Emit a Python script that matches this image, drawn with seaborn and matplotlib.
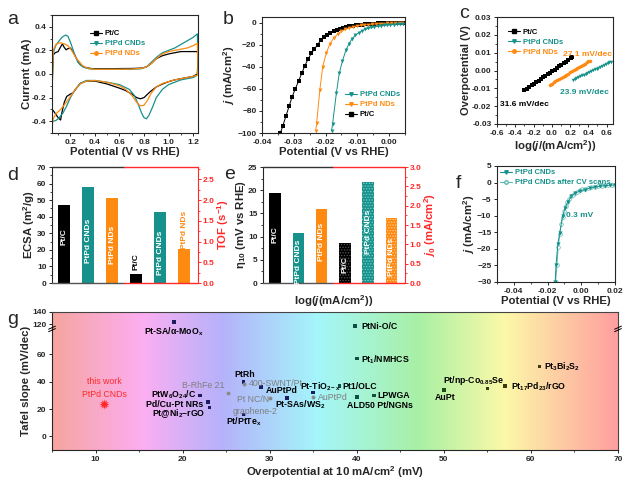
import numpy as np
import pandas as pd
import matplotlib
matplotlib.use("Agg")
import matplotlib.pyplot as plt
import seaborn as sns
from matplotlib.lines import Line2D
from matplotlib.colors import LinearSegmentedColormap
from matplotlib.ticker import MultipleLocator, FixedLocator, FormatStrFormatter

# ---------------- data ----------------
# (a) CV curves: upper (anodic) branch then lower (cathodic) branch
cv_ptc_ux = [0.05, 0.052, 0.06, 0.075, 0.1, 0.12, 0.135, 0.15, 0.165, 0.18, 0.2, 0.22, 0.25, 0.28, 0.32, 0.38, 0.5, 0.6, 0.7, 0.78, 0.82, 0.86, 0.9, 0.95, 1.0, 1.05, 1.1, 1.15, 1.2, 1.235]
cv_ptc_uy = [-0.30, -0.05, 0.16, 0.18, 0.19, 0.23, 0.255, 0.225, 0.205, 0.215, 0.22, 0.19, 0.13, 0.08, 0.055, 0.045, 0.045, 0.046, 0.047, 0.05, 0.06, 0.09, 0.13, 0.155, 0.17, 0.18, 0.19, 0.19, 0.19, 0.19]
cv_ptc_lx = [1.24, 1.235, 1.2, 1.15, 1.1, 1.05, 1.0, 0.95, 0.9, 0.85, 0.8, 0.77, 0.74, 0.7, 0.65, 0.6, 0.5, 0.4, 0.33, 0.28, 0.25, 0.22, 0.2, 0.17, 0.15, 0.13, 0.12, 0.1, 0.08, 0.06, 0.05]
cv_ptc_ly = [0.15, 0.0, -0.02, -0.03, -0.04, -0.05, -0.065, -0.085, -0.11, -0.15, -0.2, -0.21, -0.2, -0.17, -0.14, -0.12, -0.085, -0.06, -0.06, -0.08, -0.12, -0.16, -0.17, -0.19, -0.24, -0.33, -0.39, -0.37, -0.34, -0.31, -0.30]

cv_cnd_ux = [0.05, 0.052, 0.06, 0.08, 0.1, 0.13, 0.16, 0.18, 0.2, 0.23, 0.26, 0.3, 0.35, 0.4, 0.5, 0.6, 0.7, 0.78, 0.82, 0.86, 0.9, 0.95, 1.0, 1.05, 1.1, 1.15, 1.2, 1.235]
cv_cnd_uy = [-0.40, -0.1, 0.18, 0.24, 0.27, 0.31, 0.33, 0.32, 0.27, 0.18, 0.1, 0.06, 0.045, 0.04, 0.04, 0.04, 0.04, 0.045, 0.06, 0.1, 0.14, 0.18, 0.2, 0.22, 0.25, 0.28, 0.31, 0.34]
cv_cnd_lx = [1.24, 1.235, 1.2, 1.15, 1.1, 1.05, 1.0, 0.95, 0.9, 0.87, 0.84, 0.82, 0.8, 0.78, 0.75, 0.72, 0.68, 0.6, 0.5, 0.4, 0.33, 0.28, 0.24, 0.2, 0.17, 0.14, 0.1, 0.08, 0.06, 0.05]
cv_cnd_ly = [0.1, -0.01, -0.03, -0.04, -0.05, -0.07, -0.09, -0.13, -0.2, -0.28, -0.35, -0.38, -0.37, -0.33, -0.25, -0.18, -0.13, -0.09, -0.07, -0.055, -0.055, -0.08, -0.13, -0.2, -0.27, -0.33, -0.38, -0.395, -0.4, -0.40]

cv_nd_ux = [0.05, 0.052, 0.06, 0.08, 0.1, 0.12, 0.15, 0.18, 0.21, 0.25, 0.3, 0.35, 0.4, 0.5, 0.6, 0.7, 0.78, 0.82, 0.86, 0.9, 0.95, 1.0, 1.05, 1.1, 1.15, 1.2, 1.235]
cv_nd_uy = [-0.45, -0.1, 0.2, 0.25, 0.26, 0.265, 0.255, 0.24, 0.2, 0.13, 0.07, 0.045, 0.04, 0.04, 0.04, 0.042, 0.048, 0.06, 0.09, 0.13, 0.17, 0.19, 0.2, 0.21, 0.22, 0.24, 0.26]
cv_nd_lx = [1.24, 1.235, 1.2, 1.15, 1.1, 1.05, 1.0, 0.95, 0.9, 0.86, 0.83, 0.8, 0.77, 0.74, 0.7, 0.65, 0.6, 0.5, 0.4, 0.33, 0.28, 0.24, 0.2, 0.16, 0.12, 0.08, 0.06, 0.05]
cv_nd_ly = [0.05, -0.01, -0.02, -0.03, -0.04, -0.05, -0.065, -0.08, -0.11, -0.16, -0.22, -0.265, -0.27, -0.24, -0.18, -0.13, -0.1, -0.07, -0.055, -0.06, -0.085, -0.13, -0.19, -0.25, -0.3, -0.34, -0.38, -0.45]

# (b) HER polarization curves
lsv_ptc_x = [-0.0342, -0.0335, -0.0325, -0.0315, -0.0305, -0.0295, -0.0285, -0.0275, -0.0265, -0.0255, -0.0245, -0.0235, -0.0225, -0.0215, -0.0205, -0.0195, -0.0185, -0.0175, -0.0165, -0.0155, -0.0145, -0.0135, -0.0125, -0.0115, -0.0105, -0.0095, -0.0085, -0.0075, -0.0065, -0.0055, -0.0045, -0.0035, -0.0025, -0.0015, -0.0005, 0.0005, 0.0015, 0.0025, 0.0035, 0.0045]
lsv_ptc_y = [-100, -94, -85, -76, -67, -60, -53, -46, -39, -33, -28, -24, -20, -16, -13.5, -11, -9.2, -7.8, -6.6, -5.6, -4.8, -4.1, -3.5, -3.0, -2.6, -2.2, -1.9, -1.6, -1.4, -1.2, -1.0, -0.85, -0.7, -0.6, -0.5, -0.4, -0.35, -0.3, -0.25, -0.2]
lsv_nd_x = [-0.0231, -0.0228, -0.0218, -0.0209, -0.0198, -0.0186, -0.0174, -0.0162, -0.015, -0.0138, -0.0126, -0.0114, -0.0102, -0.009, -0.0078, -0.0066, -0.0054, -0.0042, -0.003, -0.0018, -0.0006, 0.0006, 0.0018, 0.003, 0.0042]
lsv_nd_y = [-98, -91, -61, -40, -28, -19, -14, -10.5, -8, -6.2, -4.9, -3.9, -3.2, -2.6, -2.2, -1.8, -1.5, -1.25, -1.05, -0.9, -0.75, -0.65, -0.55, -0.45, -0.4]
lsv_cnd_x = [-0.0181, -0.0178, -0.0166, -0.0157, -0.0147, -0.0136, -0.0126, -0.0116, -0.0106, -0.0096, -0.0086, -0.0076, -0.0066, -0.0056, -0.0046, -0.0036, -0.0026, -0.0016, -0.0006, 0.0004, 0.0014, 0.0024, 0.0034, 0.0044]
lsv_cnd_y = [-98, -92, -64, -46, -35, -25, -19, -14.5, -11.5, -9.3, -7.6, -6.3, -5.3, -4.5, -3.9, -3.4, -3.0, -2.6, -2.3, -2.0, -1.8, -1.6, -1.4, -1.3]

# (c) Tafel plots
tafel_ptc_x = [-0.30, -0.27, -0.245, -0.22, -0.195, -0.17, -0.145, -0.12, -0.095, -0.07, -0.045, -0.02, 0.005, 0.03, 0.055, 0.08, 0.105, 0.13, 0.155, 0.18, 0.205, 0.225]
tafel_ptc_y = [-0.0112, -0.0101, -0.0093, -0.0084, -0.0075, -0.0066, -0.0057, -0.0048, -0.0039, -0.0030, -0.0021, -0.0013, -0.0004, 0.0005, 0.0014, 0.0023, 0.0032, 0.0041, 0.0050, 0.0059, 0.0068, 0.0074]
tafel_nd_x = [-0.02, 0.0, 0.02, 0.04, 0.06, 0.08, 0.1, 0.12, 0.14, 0.16, 0.18, 0.2, 0.22, 0.24, 0.26, 0.28, 0.3, 0.32, 0.34, 0.36, 0.38, 0.4, 0.415]
tafel_nd_y = [-0.0079, -0.0073, -0.0067, -0.0060, -0.0054, -0.0048, -0.0042, -0.0036, -0.0029, -0.0023, -0.0017, -0.0011, -0.0005, 0.0002, 0.0008, 0.0014, 0.0020, 0.0026, 0.0033, 0.0039, 0.0045, 0.0051, 0.0056]
tafel_cnd_x = [0.23, 0.25, 0.27, 0.29, 0.31, 0.33, 0.35, 0.37, 0.39, 0.41, 0.43, 0.45, 0.47, 0.49, 0.51, 0.53, 0.55, 0.57, 0.59, 0.61, 0.63, 0.645]
tafel_cnd_y = [-0.0053, -0.0048, -0.0043, -0.0038, -0.0033, -0.0028, -0.0024, -0.0019, -0.0014, -0.0009, -0.0004, 0.0001, 0.0006, 0.0011, 0.0016, 0.0021, 0.0026, 0.0030, 0.0035, 0.0040, 0.0045, 0.0049]

# (d), (e) bars
catalysts = ["Pt/C", "PtPd CNDs", "PtPd NDs"]
ecsa = [47, 58, 51]
tof = [0.22, 1.71, 0.81]
eta10 = [19.3, 10.8, 16.0]
j0 = [1.04, 2.6, 1.69]

# (f) stability
stab_x = [-0.0155, -0.015, -0.0139, -0.0128, -0.0111, -0.0097, -0.008, -0.006, -0.0036, -0.001, 0.002, 0.005, 0.008, 0.011, 0.014, 0.017, 0.02]
stab_y = [-30, -25, -18.5, -15.3, -10.2, -7.8, -5.8, -4.2, -3.2, -2.6, -2.1, -1.7, -1.4, -1.1, -0.95, -0.8, -0.7]
stab_cv_x = [-0.0152, -0.0145, -0.0137, -0.0128, -0.012, -0.0111, -0.0102, -0.0093, -0.0083, -0.0073, -0.0062, -0.005, -0.0038, -0.0025, -0.001, 0.0005, 0.002, 0.004, 0.006, 0.008, 0.01, 0.012, 0.014, 0.016, 0.018, 0.02]
stab_cv_y = [-30, -25, -19.5, -15.5, -12.6, -10.3, -8.6, -7.2, -6.0, -5.0, -4.2, -3.6, -3.1, -2.7, -2.3, -2.0, -1.8, -1.55, -1.35, -1.2, -1.05, -0.95, -0.85, -0.78, -0.72, -0.68]

# (g) comparison with literature
g_names = ["Pt-SA/α-MoOx", "PtW6O24/C", "Pd/Cu-Pt NRs", "Pt@Ni2-rGO", "B-RhFe 21", "PtRh",
           "400-SWNT/Pt", "Pt/PtTex", "AuPtPd", "Pt NC/N-graphene-2", "Pt-SAs/WS2", "Pt-TiO2-x",
           "AuPtPd (2)", "Pt1/OLC", "PtNi-O/C", "Pt1/NMHCS", "ALD50 Pt/NGNs", "LPWGA", "AuPt",
           "Pt/np-Co0.85Se", "Pt17Pd23/rGO", "Pt3Bi2S2"]
g_eta = [19, 22, 22.9, 23.1, 25.2, 27, 27, 27, 29, 30, 32, 35, 35, 38, 39.8, 40, 40, 42, 50, 55, 57, 61]
g_tafel = [124, 30, 25, 21, 32, 40, 38, 16, 36, 28, 28, 32, 29, 37, 117, 57, 29, 30, 34, 35, 37, 51]
g_group = ["navy", "navy", "navy", "navy", "grey", "navy", "grey", "navy", "navy", "grey", "navy", "navy",
           "grey", "teal", "teal", "teal", "teal", "teal", "green", "olive", "olive", "olive"]
this_work = (11, 24)

# ---------------- style ----------------
sns.set_style("ticks")
plt.rcParams["font.family"] = ["Liberation Sans", "DejaVu Sans"]
plt.rcParams["font.weight"] = "bold"
plt.rcParams["axes.labelweight"] = "bold"
plt.rcParams["mathtext.fontset"] = "custom"
plt.rcParams["mathtext.rm"] = "Liberation Sans:bold"
plt.rcParams["mathtext.bf"] = "Liberation Sans:bold"
plt.rcParams["mathtext.it"] = "Liberation Sans:italic:bold"
plt.rcParams["mathtext.default"] = "regular"
plt.rcParams["hatch.linewidth"] = 0.6

BLACK = "#000000"
TEAL = "#17918b"
ORANGE = "#ff8a12"
RED = "#ff2a2a"
LAB = 8.2

fig = plt.figure(figsize=(6.4, 4.87), dpi=100)


def px_axes(l, t, r, b):
    return fig.add_axes([l / 640, 1 - b / 487, (r - l) / 640, (b - t) / 487])


def style(ax):
    ax.tick_params(which="major", direction="out", length=2.5, width=0.7, labelsize=6, pad=1.5)
    ax.tick_params(which="minor", direction="out", length=1.5, width=0.6)
    for s in ax.spines.values():
        s.set_linewidth(0.8)
        s.set_visible(True)


def legend(ax, handles, labels, colors, **kw):
    leg = ax.legend(handles, labels, frameon=False, fontsize=5.5, handlelength=1.6,
                    labelspacing=0.35, handletextpad=0.3, borderaxespad=0, **kw)
    for t, c in zip(leg.get_texts(), colors):
        t.set_color(c)
    return leg


def letter(x, y, s):
    fig.text(x / 640, 1 - y / 487, s, fontsize=14, fontweight="normal", ha="center", va="center")


def mk(c, m, **kw):
    return Line2D([0], [0], color=c, marker=m, ms=2.5, lw=0.8, **kw)


# ---------------- (a) CV ----------------
ax = px_axes(52, 15, 198, 133)
for ux, uy, lx, ly, c in [(cv_ptc_ux, cv_ptc_uy, cv_ptc_lx, cv_ptc_ly, BLACK),
                          (cv_cnd_ux, cv_cnd_uy, cv_cnd_lx, cv_cnd_ly, TEAL),
                          (cv_nd_ux, cv_nd_uy, cv_nd_lx, cv_nd_ly, ORANGE)]:
    sns.lineplot(x=ux + lx, y=uy + ly, sort=False, estimator=None, color=c, lw=0.9, ax=ax)
ax.set_xlim(0.05, 1.24)
ax.set_ylim(-0.5, 0.5)
ax.xaxis.set_major_locator(FixedLocator([0.2, 0.4, 0.6, 0.8, 1.0, 1.2]))
ax.xaxis.set_minor_locator(MultipleLocator(0.1))
ax.yaxis.set_major_locator(FixedLocator([-0.4, -0.2, 0.0, 0.2, 0.4]))
ax.yaxis.set_minor_locator(MultipleLocator(0.1))
ax.xaxis.set_major_formatter(FormatStrFormatter("%.1f"))
ax.yaxis.set_major_formatter(FormatStrFormatter("%.1f"))
ax.set_xlabel("Potential (V vs RHE)", fontsize=LAB, labelpad=1)
ax.set_ylabel("Current (mA)", fontsize=LAB, labelpad=0)
style(ax)
legend(ax, [mk(BLACK, "s"), mk(TEAL, "v"), mk(ORANGE, "o")], catalysts, [BLACK, TEAL, ORANGE],
       loc="upper left", bbox_to_anchor=(0.24, 0.9))

# ---------------- (b) LSV ----------------
ax = px_axes(262, 17, 405, 133)
sns.lineplot(x=lsv_ptc_x, y=lsv_ptc_y, sort=False, estimator=None, color=BLACK, lw=0.7,
             marker="s", markersize=2.5, markeredgewidth=0, ax=ax)
sns.lineplot(x=lsv_nd_x, y=lsv_nd_y, sort=False, estimator=None, color=ORANGE, lw=0.7,
             marker="v", markersize=2.8, markeredgewidth=0, ax=ax)
sns.lineplot(x=lsv_cnd_x, y=lsv_cnd_y, sort=False, estimator=None, color=TEAL, lw=0.7,
             marker="v", markersize=2.8, markeredgewidth=0, ax=ax)
ax.set_xlim(-0.04, 0.005)
ax.set_ylim(-100, 5)
ax.xaxis.set_major_locator(FixedLocator([-0.04, -0.03, -0.02, -0.01, 0.0]))
ax.xaxis.set_minor_locator(MultipleLocator(0.005))
ax.yaxis.set_major_locator(MultipleLocator(20))
ax.yaxis.set_minor_locator(MultipleLocator(10))
ax.xaxis.set_major_formatter(FormatStrFormatter("%.2f"))
ax.set_xlabel("Potential (V vs RHE)", fontsize=LAB, labelpad=1)
ax.set_ylabel(r"$\mathit{j}$ (mA/cm$^2$)", fontsize=LAB, labelpad=0)
style(ax)
legend(ax, [mk(TEAL, "v"), mk(ORANGE, "v"), mk(BLACK, "s")], ["PtPd CNDs", "PtPd NDs", "Pt/C"],
       [TEAL, ORANGE, BLACK], loc="lower left", bbox_to_anchor=(0.56, 0.1))

# ---------------- (c) Tafel ----------------
ax = px_axes(497, 17, 613, 124)
for tx, ty, c, m in [(tafel_ptc_x, tafel_ptc_y, BLACK, "s"),
                     (tafel_cnd_x, tafel_cnd_y, TEAL, "v"),
                     (tafel_nd_x, tafel_nd_y, ORANGE, "o")]:
    sns.lineplot(x=tx, y=ty, sort=False, estimator=None, color=c, lw=0.7,
                 marker=m, markersize=2.5, markeredgewidth=0, ax=ax)
ax.set_xlim(-0.6, 0.67)
ax.set_ylim(-0.03, 0.03)
ax.xaxis.set_major_locator(FixedLocator([-0.6, -0.4, -0.2, 0.0, 0.2, 0.4, 0.6]))
ax.xaxis.set_minor_locator(MultipleLocator(0.1))
ax.yaxis.set_major_locator(MultipleLocator(0.01))
ax.yaxis.set_minor_locator(MultipleLocator(0.005))
ax.xaxis.set_major_formatter(FormatStrFormatter("%.1f"))
ax.yaxis.set_major_formatter(FormatStrFormatter("%.2f"))
ax.set_xlabel(r"log($\mathit{j}$/(mA/cm$^2$))", fontsize=LAB, labelpad=1)
ax.set_ylabel("Overpotential (V)", fontsize=8, labelpad=1)
style(ax)
legend(ax, [mk(BLACK, "s"), mk(TEAL, "v"), mk(ORANGE, "o")], catalysts, [BLACK, TEAL, ORANGE],
       loc="upper left", bbox_to_anchor=(0.07, 0.92))
ax.text(0.66, 0.0092, "27.1 mV/dec", color=ORANGE, fontsize=6, ha="right", va="center")
ax.text(0.36, -0.0122, "23.9 mV/dec", color=TEAL, fontsize=6, ha="center", va="center")
ax.text(-0.57, -0.019, "31.6 mV/dec", color=BLACK, fontsize=6, ha="left", va="center")


# ---------------- (d), (e) bars ----------------
def bar_panel(box, left_vals, right_vals, lmax, rmax, rstep, lstep, lminor, rminor,
              llabel, rlabel, hatch, texts):
    ax = px_axes(*box)
    ax2 = ax.twinx()
    cols = [BLACK, TEAL, ORANGE]
    ax.bar([0, 1, 2], left_vals, width=0.5, color=cols, linewidth=0, zorder=2)
    if hatch:
        hcols = ["#555555", "#7fd0cb", "#ffc98a"]
        for i, (v, c, hc) in enumerate(zip(right_vals, cols, hcols)):
            ax2.bar([3 + i], [v], width=0.5, color=c, edgecolor=hc, hatch="......", linewidth=0, zorder=2)
    else:
        ax2.bar([3, 4, 5], right_vals, width=0.5, color=cols, linewidth=0, zorder=2)
    ax.set_xlim(-0.52, 5.58)
    ax.set_ylim(0, lmax)
    ax2.set_ylim(0, rmax)
    ax.set_xticks([])
    ax.yaxis.set_major_locator(MultipleLocator(lstep))
    ax.yaxis.set_minor_locator(MultipleLocator(lminor))
    ax2.yaxis.set_major_locator(MultipleLocator(rstep))
    ax2.yaxis.set_minor_locator(MultipleLocator(rminor))
    ax2.yaxis.set_major_formatter(FormatStrFormatter("%.1f"))
    style(ax)
    style(ax2)
    ax2.tick_params(axis="y", which="both", colors=RED, pad=1)
    for a in (ax, ax2):
        a.spines["top"].set_visible(False)
        a.spines["bottom"].set_visible(False)
    ax2.spines["left"].set_visible(False)
    ax.spines["right"].set_visible(False)
    ax2.spines["right"].set_color(RED)
    ax.set_ylabel(llabel, fontsize=LAB, labelpad=0)
    ax2.set_ylabel(rlabel, fontsize=LAB, color=RED, labelpad=0.5)
    ax2.plot([0, 0.49], [1, 1], transform=ax.transAxes, color="#333333", lw=1.0, clip_on=False)
    ax2.plot([0.49, 1], [1, 1], transform=ax.transAxes, color=RED, lw=1.0, clip_on=False)
    ax2.plot([0, 0.49], [0, 0], transform=ax.transAxes, color="#555555", lw=1.0, clip_on=False)
    ax2.plot([0.49, 1], [0, 0], transform=ax.transAxes, color=RED, lw=1.0, clip_on=False)
    for xpos, ypos, s, c in texts:
        ax2.text(xpos, ypos, s, transform=ax.transData, rotation=90, color=c, fontsize=6,
                 ha="center", va="center", zorder=5)
    return ax, ax2


W = "white"
ax_d, _ = bar_panel((52, 167, 198, 283), ecsa, tof, 70, 2.8, 0.5, 10, 5, 0.25,
                    r"ECSA (m$^2$/g)", r"TOF (s$^{-1}$)", False,
                    [(0, 28, "Pt/C", W), (1, 25.6, "PtPd CNDs", W), (2, 23, "PtPd NDs", W),
                     (3, 13, "Pt/C", BLACK), (4, 18, "PtPd CNDs", W), (5, 32, "PtPd NDs", ORANGE)])
ax_e, _ = bar_panel((263, 167, 405, 283), eta10, j0, 25, 3.0, 0.5, 5, 2.5, 0.25,
                    r"$\eta_{10}$ (mV vs RHE)", r"$\mathit{j}_0$ (mA/cm$^2$)", True,
                    [(0, 10.4, "Pt/C", W), (1, 4.6, "PtPd CNDs", W), (2, 8.9, "PtPd NDs", W),
                     (3, 3.9, "Pt/C", W), (4, 11, "PtPd CNDs", W), (5, 5.7, "PtPd NDs", W)])
ax_e.set_xlabel(r"log($\mathit{j}$(mA/cm$^2$))", fontsize=LAB, labelpad=7)

# ---------------- (f) stability ----------------
ax = px_axes(497, 166, 615, 282)
TEAL2 = "#5cb8b2"
sns.lineplot(x=stab_cv_x, y=stab_cv_y, sort=False, estimator=None, color=TEAL2, lw=0.7,
             marker="o", markersize=2.6, markerfacecolor="white", markeredgecolor=TEAL2,
             markeredgewidth=0.5, ax=ax)
sns.lineplot(x=stab_x, y=stab_y, sort=False, estimator=None, color=TEAL, lw=0.7,
             marker="v", markersize=3, markeredgewidth=0, ax=ax)
ax.set_xlim(-0.05, 0.02)
ax.set_ylim(-30, 5)
ax.xaxis.set_major_locator(FixedLocator([-0.04, -0.02, 0.0, 0.02]))
ax.xaxis.set_minor_locator(MultipleLocator(0.01))
ax.yaxis.set_major_locator(MultipleLocator(5))
ax.xaxis.set_major_formatter(FormatStrFormatter("%.2f"))
ax.set_xlabel("Potential (V vs RHE)", fontsize=LAB, labelpad=1)
ax.set_ylabel(r"$\mathit{j}$ (mA/cm$^2$)", fontsize=LAB, labelpad=0)
style(ax)
legend(ax, [mk(TEAL, "v"), Line2D([0], [0], color=TEAL2, marker="o", ms=2.5, lw=0.8,
                                  markerfacecolor="white")],
       ["PtPd CNDs", "PtPd CNDs after CV scans"], [TEAL, TEAL], loc="upper left",
       bbox_to_anchor=(0.0, 1.0))
ax.text(-0.009, -10, "0.3 mV", color=TEAL, fontsize=6, ha="left", va="center")

# ---------------- (g) comparison ----------------
ax = px_axes(52, 312, 618, 450)


def fwd(y):
    y = np.asarray(y, dtype=float)
    return np.where(y <= 70, y, np.where(y <= 105, 70 + (y - 70) * 0.15, 75.25 + (y - 105) * 0.45))


def inv(z):
    z = np.asarray(z, dtype=float)
    return np.where(z <= 70, z, np.where(z <= 75.25, 70 + (z - 70) / 0.15, 105 + (z - 75.25) / 0.45))


ax.set_yscale("function", functions=(fwd, inv))
bg = LinearSegmentedColormap.from_list("bg", [(0.0, "#f6a59f"), (0.16, "#fcaef2"), (0.3, "#b5b2fb"),
                                              (0.47, "#a4f6fa"), (0.65, "#a9f0a4"), (0.8, "#fcf9a8"),
                                              (1.0, "#ff9f9f")])
ax.imshow(np.linspace(0, 1, 256)[None, :], aspect="auto", extent=(0, 1, 0, 1),
          transform=ax.transAxes, cmap=bg, zorder=0)

df = pd.DataFrame({"name": g_names, "eta": g_eta, "tafel": g_tafel, "group": g_group})
pal = {"navy": "#1c1c64", "teal": "#0f4d47", "green": "#1d4a1d", "olive": "#3b3b12", "grey": "#8a8a8a"}
dark = df[df["group"] != "grey"]
sns.scatterplot(data=dark, x="eta", y="tafel", hue="group", palette=pal, marker="s", s=7,
                linewidth=0, legend=False, zorder=3, ax=ax)
sns.scatterplot(data=df[df["group"] == "grey"], x="eta", y="tafel", color=pal["grey"], marker="o",
                s=8, linewidth=0, legend=False, zorder=3, ax=ax)
sns.scatterplot(x=[this_work[0]], y=[this_work[1]], color=RED, marker=(12, 1, 0), s=55,
                linewidth=0, legend=False, zorder=4, ax=ax)

G = 6.3
GREY = "#7f7f7f"
labels_g = [
    ("this work\nPtPd CNDs", 11, 35.5, "center", RED, "normal"),
    ("Pt-SA/α-MoO$_x$", 19, 108, "center", BLACK, "bold"),
    ("PtW$_6$O$_{24}$/C", 21.6, 30.5, "right", BLACK, "bold"),
    ("Pd/Cu-Pt NRs", 22.4, 23.5, "right", BLACK, "bold"),
    ("Pt@Ni$_2$–rGO", 22.6, 16.6, "right", BLACK, "bold"),
    ("B-RhFe 21", 24.8, 37.5, "right", GREY, "normal"),
    ("PtRh", 27.1, 45.4, "center", BLACK, "bold"),
    ("400-SWNT/Pt", 27.6, 38.8, "left", GREY, "normal"),
    ("AuPtPd", 29.6, 33.2, "left", BLACK, "bold"),
    ("Pt NC/N-\ngraphene-2", 28.3, 22.6, "center", GREY, "normal"),
    ("Pt-SAs/WS$_2$", 33.5, 23.4, "center", BLACK, "bold"),
    ("Pt/PtTe$_x$", 27, 11, "center", BLACK, "bold"),
    ("Pt-TiO$_{2-x}$", 33.5, 36.5, "left", BLACK, "bold"),
    ("AuPtPd", 35.6, 28.6, "left", GREY, "normal"),
    ("Pt1/OLC", 38.4, 36.8, "left", BLACK, "bold"),
    ("PtNi-O/C", 40.5, 117, "left", BLACK, "bold"),
    ("Pt$_1$/NMHCS", 40.5, 56, "left", BLACK, "bold"),
    ("ALD50 Pt/NGNs", 42.7, 22.7, "center", BLACK, "bold"),
    ("LPWGA", 42.4, 30, "left", BLACK, "bold"),
    ("AuPt", 50.2, 28.3, "center", BLACK, "bold"),
    ("Pt/np-Co$_{0.85}$Se", 53.4, 41, "center", BLACK, "bold"),
    ("Pt$_{17}$Pd$_{23}$/rGO", 57.7, 36, "left", BLACK, "bold"),
    ("Pt$_3$Bi$_2$S$_2$", 61.5, 51, "left", BLACK, "bold"),
]
for s, x, y, ha, c, w in labels_g:
    ax.text(x, y, s, ha=ha, va="center", color=c, fontsize=G, fontweight=w, zorder=5,
            linespacing=1.5)

ax.set_xlim(5, 70)
ax.set_ylim(-10, 140)
ax.xaxis.set_major_locator(MultipleLocator(10))
ax.xaxis.set_minor_locator(MultipleLocator(5))
ax.yaxis.set_major_locator(FixedLocator([0, 20, 40, 60, 120, 140]))
ax.yaxis.set_minor_locator(FixedLocator([]))
ax.yaxis.set_major_formatter(FormatStrFormatter("%d"))
ax.set_xlabel(r"Overpotential at 10 mA/cm$^2$ (mV)", fontsize=LAB, labelpad=1)
ax.set_ylabel("Tafel slope (mV/dec)", fontsize=LAB, labelpad=1)
style(ax)
ax.spines["right"].set_color("#444444")
ax.spines["top"].set_color("#444444")
tr = ax.get_yaxis_transform()
for xa in (0, 1):
    for dy in (0, 4):
        ax.plot([xa - 0.006, xa + 0.006], [108 + dy, 113 + dy], transform=tr, color=BLACK,
                lw=0.7, clip_on=False, zorder=6)

# panel letters
letter(13, 19, "a")
letter(228, 19, "b")
letter(464, 14, "c")
letter(13, 176, "d")
letter(230, 174, "e")
letter(458, 183, "f")
letter(13, 319, "g")

fig.savefig("out.png", dpi=100)
